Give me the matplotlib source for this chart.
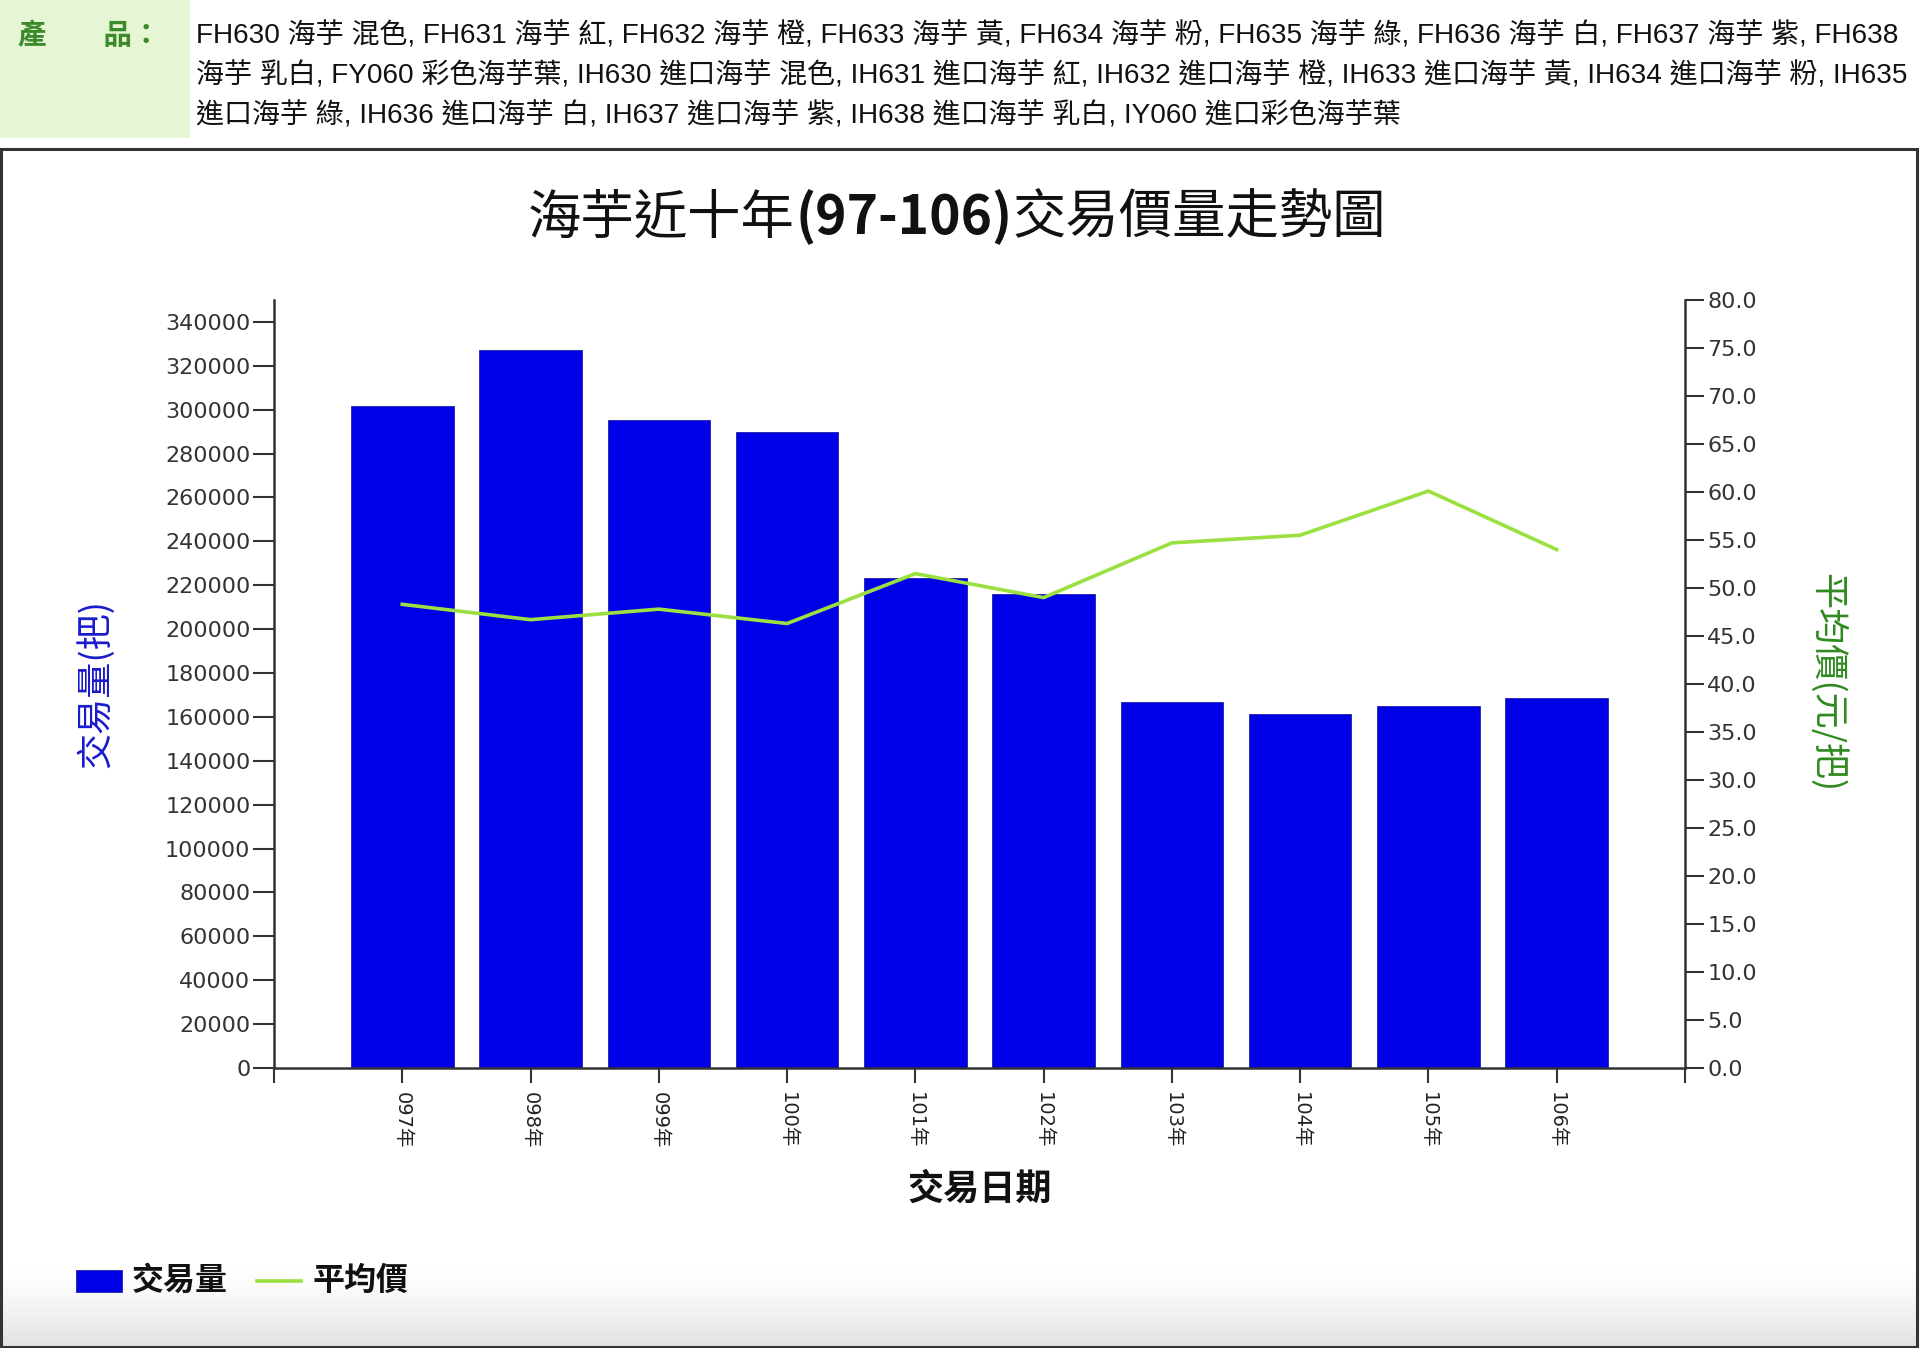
import matplotlib
matplotlib.use("Agg")
import matplotlib.pyplot as plt
import matplotlib.patches as mpatches
from matplotlib.lines import Line2D
from matplotlib.colors import LinearSegmentedColormap
import numpy as np

plt.rcParams['font.family'] = ['DejaVu Sans', 'Noto Sans CJK TC']

# ---------------- data ----------------
years = ["097年", "098年", "099年", "100年", "101年", "102年", "103年", "104年", "105年", "106年"]
volume = [301700, 327200, 295300, 289800, 223300, 216100, 166800, 161300, 165000, 168600]
avg_price = [48.3, 46.7, 47.8, 46.3, 51.5, 49.0, 54.7, 55.5, 60.1, 54.0]

header_label = "產　　品："
header_lines = [
    "FH630 海芋 混色, FH631 海芋 紅, FH632 海芋 橙, FH633 海芋 黃, FH634 海芋 粉, FH635 海芋 綠, FH636 海芋 白, FH637 海芋 紫, FH638",
    "海芋 乳白, FY060 彩色海芋葉, IH630 進口海芋 混色, IH631 進口海芋 紅, IH632 進口海芋 橙, IH633 進口海芋 黃, IH634 進口海芋 粉, IH635",
    "進口海芋 綠, IH636 進口海芋 白, IH637 進口海芋 紫, IH638 進口海芋 乳白, IY060 進口彩色海芋葉",
]
title_parts = ["海芋近十年", "(97-106)", "交易價量走勢圖"]
left_ticks = list(range(0, 340001, 20000))
right_ticks = [i * 5.0 for i in range(17)]

BAR_COLOR = "#0000e8"
LINE_COLOR = "#99e040"

W, H = 1920, 1348
fig = plt.figure(figsize=(W / 100, H / 100), dpi=100)

def fx(px):
    return px / W

def fy(py):
    return 1 - py / H

# gradient at bottom of chart box
gax = fig.add_axes([fx(2), fy(1346), fx(1914), fy(1270) - fy(1346)], zorder=-5)
grad = np.linspace(0, 1, 100).reshape(-1, 1) ** 1.3
cmap = LinearSegmentedColormap.from_list("g", ["#ffffff", "#e2e2e2"])
gax.imshow(grad, aspect="auto", cmap=cmap, extent=[0, 1, 0, 1], origin="upper")
gax.axis("off")

# header green box
fig.patches.append(mpatches.Rectangle((0, fy(138)), fx(190), fy(0) - fy(138),
                                      transform=fig.transFigure, facecolor="#e6f5d3",
                                      edgecolor="none", zorder=-10))
fig.text(fx(18), fy(36), header_label, color="#3c8a2c", fontsize=20.5, fontweight="bold",
         family=['Liberation Sans', 'Noto Sans CJK TC'], va="center", ha="left")
for i, line in enumerate(header_lines):
    fig.text(fx(196), fy(36 + i * 40), line, color="#111111", fontsize=20.2,
             family=['Liberation Sans', 'Noto Sans CJK TC'], va="center", ha="left")

# chart frame
fig.patches.append(mpatches.Rectangle((fx(1), fy(1347)), fx(1917) - fx(1), fy(149) - fy(1347),
                                      transform=fig.transFigure, facecolor="none",
                                      edgecolor="#333333", linewidth=2.2, zorder=5))

# main axes
ax = fig.add_axes([fx(274), fy(1068), fx(1685) - fx(274), fy(300) - fy(1068)])
x = np.arange(len(years))
ax.bar(x, volume, width=0.8, color=BAR_COLOR, edgecolor="#2020a0", linewidth=0.6, zorder=2)
ax.set_xlim(-1, len(years))
ax.set_ylim(0, 350000)
ax.set_yticks(left_ticks)
ax.set_yticklabels([str(v) for v in left_ticks], fontsize=16, color="#333333")
ax.set_xticks(list(range(-1, len(years) + 1)))
ax.set_xticklabels([""] + years + [""], rotation=-90, fontsize=14, color="#222222")
ax.tick_params(axis="y", length=15, width=1.5, color="#333333", pad=2)
ax.tick_params(axis="x", length=11, width=1.5, color="#333333", pad=6)
for s in ["top", "right"]:
    ax.spines[s].set_visible(False)
for s in ["left", "bottom"]:
    ax.spines[s].set_linewidth(1.8)
    ax.spines[s].set_color("#333333")
ax.set_xlabel("交易日期", fontsize=26, color="#111111", fontweight="bold",
              family=['Noto Sans CJK TC'], labelpad=16)

ax2 = ax.twinx()
ax2.plot(x, avg_price, color=LINE_COLOR, linewidth=2.6, zorder=3)
ax2.set_ylim(0, 80)
ax2.set_yticks(right_ticks)
ax2.set_yticklabels([f"{v:.1f}" for v in right_ticks], fontsize=16, color="#333333")
ax2.tick_params(axis="y", length=14, width=1.5, color="#333333", pad=2)
for s in ["top", "left", "bottom"]:
    ax2.spines[s].set_visible(False)
ax2.spines["right"].set_linewidth(1.8)
ax2.spines["right"].set_color("#333333")

# axis labels
fig.text(fx(95), fy(683), "交易量(把)", rotation=90, color="#1a1acc", fontsize=26,
         family=['Noto Sans CJK TC'], ha="center", va="center")
fig.text(fx(1827), fy(683), "平均價(元/把)", rotation=-90, color="#2f8a1f", fontsize=26,
         family=['Noto Sans CJK TC'], ha="center", va="center")

# title (bold middle part), centred as a whole
tkw = dict(fontsize=38.4, color="#111111", family=['Noto Sans CJK TC', 'DejaVu Sans'],
           va="center", ha="left")
texts = [fig.text(0, fy(218), title_parts[0], **tkw),
         fig.text(0, fy(218), title_parts[1], fontweight="bold", **tkw),
         fig.text(0, fy(218), title_parts[2], **tkw)]
fig.canvas.draw()
r = fig.canvas.get_renderer()
widths = [t.get_window_extent(r).width for t in texts]
start = 957 - sum(widths) / 2
for t, w in zip(texts, widths):
    t.set_x(fx(start))
    start += w

# legend
fig.patches.append(mpatches.Rectangle((fx(76), fy(1292)), fx(46), fy(1270) - fy(1292),
                                      transform=fig.transFigure, facecolor=BAR_COLOR,
                                      edgecolor="#2020a0", linewidth=0.6))
fig.text(fx(132), fy(1281), "交易量", fontsize=23, fontweight="bold", color="#111111",
         family=['Noto Sans CJK TC'], ha="left", va="center")
fig.lines.append(Line2D([fx(257), fx(301)], [fy(1281), fy(1281)], transform=fig.transFigure,
                        color=LINE_COLOR, linewidth=2.6))
fig.text(fx(313), fy(1281), "平均價", fontsize=23, fontweight="bold", color="#111111",
         family=['Noto Sans CJK TC'], ha="left", va="center")

fig.savefig("out.png", dpi=100, facecolor="white")
